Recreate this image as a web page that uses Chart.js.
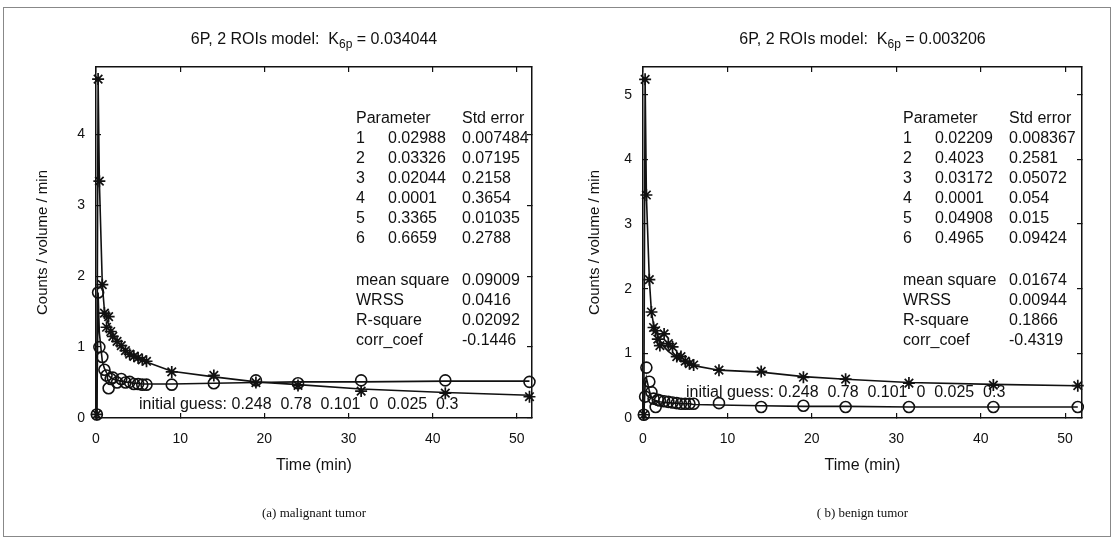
<!DOCTYPE html>
<html>
<head>
<meta charset="utf-8">
<script src="https://cdn.jsdelivr.net/npm/chart.js@4.4.1/dist/chart.umd.min.js"></script>
<style>
  html, body { margin: 0; padding: 0; background: #fff; }
  #page { position: relative; width: 1115px; height: 539px; overflow: hidden; }
  #frame { position: absolute; left: 3px; top: 7px; width: 1106px; height: 528px; border: 1px solid #888; }
  canvas { position: absolute; top: 0; }
</style>
</head>
<body>
<div id="page">
  <div id="frame"></div>
  <canvas id="left" width="557" height="539" style="left:0"></canvas>
  <canvas id="right" width="558" height="539" style="left:557px"></canvas>
</div>
<script>
// sampling times (min), shared by both studies
const times = [0.1, 0.25, 0.4, 0.75, 1.0, 1.25, 1.5, 1.75, 2.0, 2.5, 3.0, 3.5, 4.0, 4.5, 5.0, 5.5, 6.0, 9.0, 14.0, 19.0, 24.0, 31.5, 41.5, 51.5];

// (a) malignant tumor
const malignantRoi = [0.05, 4.78, 3.34, 1.88, 1.48, 1.28, 1.43, 1.22, 1.15, 1.08, 1.02, 0.95, 0.9, 0.87, 0.85, 0.82, 0.8, 0.65, 0.6, 0.5, 0.46, 0.38, 0.35, 0.3];
const malignantRef = [0.05, 1.77, 1.0, 0.86, 0.68, 0.6, 0.42, 0.55, 0.57, 0.5, 0.55, 0.5, 0.51, 0.48, 0.48, 0.47, 0.47, 0.47, 0.49, 0.53, 0.49, 0.53, 0.53, 0.51];
const malignantRoiFit = [0.05, 4.78, 3.34, 1.88, 1.52, 1.4, 1.32, 1.25, 1.18, 1.09, 1.01, 0.95, 0.9, 0.87, 0.84, 0.81, 0.79, 0.66, 0.58, 0.51, 0.47, 0.41, 0.36, 0.32];
const malignantRefFit = [0.05, 1.77, 1.2, 0.8, 0.7, 0.64, 0.6, 0.57, 0.55, 0.53, 0.52, 0.51, 0.5, 0.49, 0.49, 0.48, 0.48, 0.48, 0.49, 0.5, 0.51, 0.51, 0.52, 0.52];
const malignantParams = ['0.02988', '0.03326', '0.02044', '0.0001', '0.3365', '0.6659'];
const malignantErrors = ['0.007484', '0.07195', '0.2158', '0.3654', '0.01035', '0.2788'];
const malignantStats = ['0.09009', '0.0416', '0.02092', '-0.1446'];

// (b) benign tumor
const benignRoi = [0.05, 5.24, 3.45, 2.14, 1.64, 1.4, 1.35, 1.22, 1.12, 1.3, 1.15, 1.1, 0.95, 0.95, 0.88, 0.84, 0.82, 0.74, 0.72, 0.63, 0.6, 0.54, 0.51, 0.5];
const benignRef = [0.05, 0.33, 0.78, 0.56, 0.4, 0.3, 0.17, 0.28, 0.27, 0.26, 0.25, 0.24, 0.23, 0.22, 0.22, 0.22, 0.22, 0.23, 0.17, 0.19, 0.17, 0.17, 0.17, 0.17];
const benignRoiFit = [0.05, 5.24, 3.45, 2.14, 1.64, 1.45, 1.35, 1.27, 1.2, 1.1, 1.03, 0.98, 0.93, 0.89, 0.86, 0.83, 0.81, 0.74, 0.71, 0.64, 0.6, 0.55, 0.52, 0.5];
const benignRefFit = [0.05, 0.5, 0.62, 0.42, 0.32, 0.28, 0.27, 0.26, 0.25, 0.24, 0.24, 0.23, 0.23, 0.22, 0.22, 0.22, 0.21, 0.2, 0.19, 0.18, 0.18, 0.17, 0.17, 0.17];
const benignParams = ['0.02209', '0.4023', '0.03172', '0.0001', '0.04908', '0.4965'];
const benignErrors = ['0.008367', '0.2581', '0.05072', '0.054', '0.015', '0.09424'];
const benignStats = ['0.01674', '0.00944', '0.1866', '-0.4319'];

const statLabels = ['mean square', 'WRSS', 'R-square', 'corr_coef'];
const initialGuess = 'initial guess: 0.248  0.78  0.101  0  0.025  0.3';

const ink = '#111';
const sans = '"Liberation Sans", Arial, sans-serif';

function points(values) {
    return times.map((t, i) => ({ x: t, y: values[i] }));
}

function drawTitle(ctx, cx, y, k) {
    const main = '6P, 2 ROIs model:  K';
    const sub = '6p';
    const tail = ' = ' + k;
    ctx.font = '16px ' + sans;
    const w1 = ctx.measureText(main).width;
    const w3 = ctx.measureText(tail).width;
    ctx.font = '12px ' + sans;
    const w2 = ctx.measureText(sub).width;
    let x = cx - (w1 + w2 + w3) / 2;
    ctx.textAlign = 'left';
    ctx.textBaseline = 'middle';
    ctx.font = '16px ' + sans;
    ctx.fillText(main, x, y);
    x += w1;
    ctx.font = '12px ' + sans;
    ctx.fillText(sub, x, y + 5);
    x += w2;
    ctx.font = '16px ' + sans;
    ctx.fillText(tail, x, y);
}

function makePanel(id, p) {
    const textPlugin = {
        id: 'panelText',
        afterDraw(chart) {
            const ctx = chart.ctx;
            const area = chart.chartArea;
            const cx = (area.left + area.right) / 2;
            ctx.save();
            ctx.fillStyle = ink;
            drawTitle(ctx, cx, 40, p.k);

            // parameter table
            ctx.font = '16px ' + sans;
            ctx.textAlign = 'left';
            ctx.textBaseline = 'middle';
            const c1 = area.left + 260, c2 = area.left + 292, c3 = area.left + 366;
            ctx.fillText('Parameter', c1, 119);
            ctx.fillText('Std error', c3, 119);
            p.params.forEach((v, i) => {
                const y = 139 + i * 20;
                ctx.fillText(String(i + 1), c1, y);
                ctx.fillText(v, c2, y);
                ctx.fillText(p.errors[i], c3, y);
            });
            statLabels.forEach((lab, i) => {
                const y = 281 + i * 20;
                ctx.fillText(lab, c1, y);
                ctx.fillText(p.stats[i], c3, y);
            });
            ctx.fillText(initialGuess, area.left + 43, p.guessY);

            ctx.font = '13px "Liberation Serif", "Times New Roman", serif';
            ctx.textAlign = 'center';
            ctx.fillText(p.caption, cx, 514);
            ctx.restore();
        }
    };

    const axisLine = { display: true, color: ink, width: 1.5 };
    const tickMarks = { drawOnChartArea: false, tickLength: -5, color: ink, tickColor: ink, lineWidth: 1.2 };
    const tickFont = { family: sans, size: 14 };

    new Chart(document.getElementById(id), {
        type: 'scatter',
        data: {
            datasets: [
                { data: points(p.roiFit), showLine: true, borderColor: ink, borderWidth: 1.6, pointRadius: 0, clip: false },
                { data: points(p.refFit), showLine: true, borderColor: ink, borderWidth: 1.6, pointRadius: 0, clip: false },
                { data: points(p.roi), pointStyle: 'star', pointRadius: 6, borderColor: ink, borderWidth: 1.7, clip: false },
                { data: points(p.ref), pointStyle: 'circle', pointRadius: 5.5, borderColor: ink, backgroundColor: 'rgba(0,0,0,0)', borderWidth: 1.6, clip: false }
            ]
        },
        options: {
            responsive: false,
            animation: false,
            events: [],
            layout: { padding: { top: 67, left: 0, right: p.padRight, bottom: 61 } },
            plugins: { legend: { display: false }, tooltip: { enabled: false } },
            scales: {
                x: {
                    type: 'linear', position: 'bottom', min: 0, max: p.xMax,
                    afterFit: s => { s.height = 60; },
                    border: axisLine, grid: tickMarks,
                    ticks: { stepSize: 10, includeBounds: false, padding: 18, color: ink, font: tickFont },
                    title: { display: true, text: 'Time (min)', color: ink, font: { family: sans, size: 16 }, padding: { top: 0, bottom: 3 } }
                },
                x2: {
                    type: 'linear', position: 'top', min: 0, max: p.xMax,
                    afterFit: s => { s.height = 0; },
                    border: axisLine, grid: tickMarks,
                    ticks: { stepSize: 10, includeBounds: false, display: false }
                },
                y: {
                    type: 'linear', position: 'left', min: 0, max: p.yMax,
                    afterFit: s => { s.width = p.axisWidth; },
                    border: axisLine, grid: tickMarks,
                    ticks: { stepSize: 1, includeBounds: false, padding: 16, color: ink, font: tickFont },
                    title: { display: true, text: 'Counts / volume / min', color: ink, font: { family: sans, size: 15 }, padding: { top: p.yTitlePad, bottom: 0 } }
                },
                y2: {
                    type: 'linear', position: 'right', min: 0, max: p.yMax,
                    afterFit: s => { s.width = 0; },
                    border: axisLine, grid: tickMarks,
                    ticks: { stepSize: 1, includeBounds: false, display: false }
                }
            }
        },
        plugins: [textPlugin]
    });
}

makePanel('left', {
    k: '0.034044', caption: '(a) malignant tumor',
    roi: malignantRoi, ref: malignantRef, roiFit: malignantRoiFit, refFit: malignantRefFit,
    params: malignantParams, errors: malignantErrors, stats: malignantStats,
    xMax: 51.8, yMax: 4.95, axisWidth: 96, padRight: 25, yTitlePad: 34, guessY: 405
});

makePanel('right', {
    k: '0.003206', caption: '( b) benign tumor',
    roi: benignRoi, ref: benignRef, roiFit: benignRoiFit, refFit: benignRefFit,
    params: benignParams, errors: benignErrors, stats: benignStats,
    xMax: 52.0, yMax: 5.43, axisWidth: 86, padRight: 33, yTitlePad: 29, guessY: 393
});
</script>
</body>
</html>
